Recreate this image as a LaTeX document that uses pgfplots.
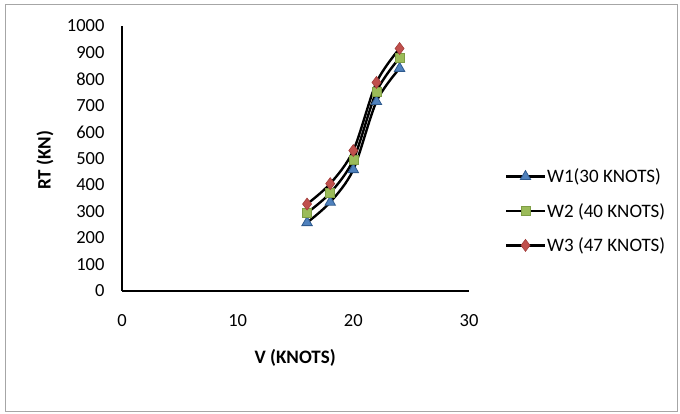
\documentclass[border=0pt]{standalone}
\usepackage{pgfplots}
\pgfplotsset{compat=1.18}
\usepackage{fontspec}
\setmainfont{Carlito}
\definecolor{sblue}{HTML}{4F81BD}
\definecolor{sblued}{HTML}{2E5A8E}
\definecolor{sgreen}{HTML}{9BBB59}
\definecolor{sgreend}{HTML}{7E9D45}
\definecolor{sred}{HTML}{C0504D}
\definecolor{sredd}{HTML}{A33E3B}
\begin{document}
\begin{tikzpicture}[x=1pt,y=1pt]
\path (0,0) rectangle (680,414);
\draw[gray!70, line width=0.8pt] (5,3) rectangle (677,410);
\begin{axis}[
  at={(122pt,123pt)}, anchor=south west,
  scale only axis, width=347pt, height=265pt,
  xmin=0, xmax=30, ymin=0, ymax=1000,
  xtick={0,10,20,30}, ytick={0,100,...,1000},
  axis x line*=bottom, axis y line*=left,
  axis line style={line width=2.2pt, -},
  major tick length=0pt,
  tick label style={font=\fontsize{18.5}{19}\selectfont},
  label style={font=\fontsize{19}{19}\selectfont\bfseries},
  /pgf/number format/assume math mode=true,
  /pgf/number format/1000 sep={},
  yticklabel style={xshift=-14pt},
  xticklabel style={yshift=-20pt},
  xlabel={V (KNOTS)}, ylabel={RT (KN)},
  xlabel style={at={(axis description cs:0.499,-0.253)}, anchor=center},
  ylabel style={at={(axis description cs:-0.222,0.494)}, anchor=center, rotate=0},
  clip=false,
  legend style={at={(1.104,0.302)}, anchor=west, draw=none, fill=none,
    font=\fontsize{19}{19}\selectfont, row sep=16pt, inner sep=0pt,
    nodes={inner sep=1.5pt}},
  legend cell align=left,
  legend image code/.code={\draw[mark repeat=2,mark phase=2,#1] plot coordinates {(0pt,0pt)(19pt,0pt)(38pt,0pt)};},
]
\addplot[black, line width=2.4pt, smooth, mark=triangle*, mark size=6pt, mark options={fill=sblue, draw=sblued, line width=0.8pt}] coordinates {(16,258) (18,335) (20,458) (22,715) (24,840)};
\addlegendentry{W1(30 KNOTS)}
\addplot[black, line width=2.4pt, smooth, mark=square*, mark size=4.5pt, mark options={fill=sgreen, draw=sgreend, line width=0.6pt}] coordinates {(16,295) (18,370) (20,495) (22,752) (24,880)};
\addlegendentry{W2 (40 KNOTS)}
\addplot[black, line width=2.4pt, smooth, mark=diamond*, mark size=6pt, mark options={fill=sred, draw=sredd, line width=0.6pt}] coordinates {(16,328) (18,405) (20,530) (22,787) (24,915)};
\addlegendentry{W3 (47 KNOTS)}
\end{axis}
\end{tikzpicture}
\end{document}
